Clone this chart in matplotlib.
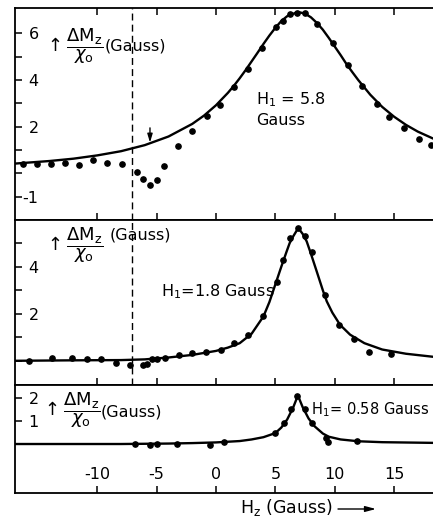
import matplotlib.pyplot as plt
from matplotlib.patches import FancyArrowPatch

plt.rcParams['font.family'] = ['DejaVu Sans']
plt.rcParams['mathtext.fontset'] = 'dejavusans'

# top panel, H1 = 5.8 Gauss
top_hz = [-16.28, -15.11, -13.9, -12.7, -11.5, -10.34, -9.16, -7.92, -6.68, -6.18, -5.56, -5.0,
          -4.38, -3.18, -2.0, -0.79, 0.3, 1.52, 2.72, 3.85, 5.05, 5.67, 6.23, 6.85, 7.52, 8.53,
          9.83, 11.09, 12.27, 13.54, 14.6, 15.84, 17.07, 18.1]
top_dm = [0.39, 0.39, 0.42, 0.46, 0.36, 0.56, 0.46, 0.39, 0.06, -0.26, -0.48, -0.29,
          0.31, 1.17, 1.81, 2.47, 2.95, 3.71, 4.46, 5.36, 6.26, 6.54, 6.82, 6.89, 6.86, 6.4,
          5.6, 4.64, 3.74, 2.96, 2.4, 1.93, 1.47, 1.2]
top_fit_hz = [-16.9, -14, -12, -10, -8, -6, -4, -2, -1, 0, 1, 1.5, 2, 2.5, 3, 3.5, 4, 4.5,
              5, 5.5, 6, 6.9, 7.5, 8, 8.5, 9, 9.5, 10, 10.5, 11, 11.5, 12, 13, 14, 15, 16,
              17, 18.3]
top_fit_dm = [0.42, 0.53, 0.63, 0.77, 0.95, 1.21, 1.58, 2.12, 2.48, 2.92, 3.45, 3.75, 4.08,
              4.43, 4.8, 5.17, 5.55, 5.91, 6.24, 6.53, 6.74, 6.92, 6.85, 6.69, 6.45, 6.16,
              5.81, 5.44, 5.07, 4.68, 4.33, 3.99, 3.37, 2.85, 2.43, 2.08, 1.79, 1.49]

# middle panel, H1 = 1.8 Gauss
mid_hz = [-15.72, -13.84, -12.16, -10.9, -9.72, -8.42, -7.25, -6.12, -5.84, -5.42, -4.94,
          -4.3, -3.12, -2.0, -0.84, 0.39, 1.54, 2.72, 3.99, 5.11, 5.67, 6.23, 6.93, 7.52, 8.06,
          9.21, 10.34, 11.6, 12.92, 14.72]
mid_dm = [0.0, 0.1, 0.1, 0.06, 0.06, -0.08, -0.18, -0.18, -0.14, 0.06, 0.06,
          0.14, 0.24, 0.34, 0.36, 0.46, 0.74, 1.09, 1.9, 3.36, 4.29, 5.21, 5.63, 5.31, 4.61,
          2.8, 1.51, 0.91, 0.37, 0.31]
mid_fit_hz = [-16.9, -12, -8, -6, -4, -2, 0, 1, 2, 3, 4, 4.5, 5, 5.5, 5.95, 6.2, 6.5, 6.93,
              7.3, 7.64, 8.0, 8.48, 9.0, 9.33, 9.8, 10.45, 11.3, 12.5, 14, 16, 18.3]
mid_fit_dm = [0.0, 0.02, 0.03, 0.06, 0.14, 0.25, 0.42, 0.56, 0.75, 1.15, 1.89, 2.5, 3.25,
              4.0, 4.65, 5.0, 5.29, 5.65, 5.4, 5.08, 4.55, 3.81, 3.0, 2.53, 2.05, 1.53,
              1.11, 0.75, 0.48, 0.3, 0.17]

# bottom panel, H1 = 0.58 Gauss
bot_hz = [-6.82, -5.56, -5.0, -3.31, -0.53, 0.67, 4.97, 5.73, 6.29, 6.85, 7.5, 8.09, 9.27,
          9.46, 11.85]
bot_dm = [0.0, -0.04, 0.0, 0.0, -0.04, 0.1, 0.47, 0.94, 1.52, 2.09, 1.55, 0.94, 0.25,
          0.1, 0.13]
bot_fit_hz = [-16.9, -8, -4, -2, 0, 2, 3, 4, 5, 5.5, 6, 6.5, 6.9, 7.3, 7.8, 8.3, 9, 9.5,
              10.5, 12, 14, 18.3]
bot_fit_dm = [0.0, 0.0, 0.02, 0.04, 0.07, 0.13, 0.2, 0.3, 0.48, 0.72, 1.08, 1.6, 2.13, 1.62,
              1.12, 0.78, 0.46, 0.32, 0.2, 0.12, 0.08, 0.05]

x_ticks = [-10, -5, 0, 5, 10, 15]
dash_x = -7.1

fig = plt.figure(figsize=(4.33, 5.18), dpi=100)
W, H = 433, 518


def panel(top_px, bot_px):
    return fig.add_axes([15 / W, 1 - bot_px / H, 1 - 15 / W, (bot_px - top_px) / H])


ax1 = panel(8, 220)
ax2 = panel(220, 385)
ax3 = panel(385, 493)

panels = [
    (ax1, top_hz, top_dm, top_fit_hz, top_fit_dm, (-2.0, 7.09), list(range(-1, 7)),
     {6: '6', 4: '4', 2: '2', -1: '-1'}),
    (ax2, mid_hz, mid_dm, mid_fit_hz, mid_fit_dm, (-1.03, 5.99), list(range(0, 6)),
     {4: '4', 2: '2'}),
    (ax3, bot_hz, bot_dm, bot_fit_hz, bot_fit_dm, (-2.15, 2.59), [0, 1, 2],
     {2: '2', 1: '1'}),
]

for ax, hz, dm, fhz, fdm, ylim, yt, ylab in panels:
    ax.plot(fhz, fdm, color='black', lw=1.7, solid_joinstyle='round')
    ax.plot(hz, dm, 'o', color='black', ms=3.8)
    ax.set_xlim(-16.93, 18.28)
    ax.set_ylim(*ylim)
    ax.set_yticks(yt)
    ax.set_yticklabels([ylab.get(v, '') for v in yt])
    ax.set_xticks(x_ticks)
    ax.tick_params(axis='y', direction='in', length=5, width=1.1, pad=-17, labelsize=11.5)
    ax.tick_params(axis='x', direction='in', length=5, width=1.1, labelsize=11.5)
    ax.spines['right'].set_visible(False)
    for s in ['left', 'top', 'bottom']:
        ax.spines[s].set_linewidth(1.3)

ax1.tick_params(axis='x', top=True, labelbottom=False)
ax2.tick_params(axis='x', labelbottom=False)
ax3.set_xticklabels([str(v) for v in x_ticks])
ax3.tick_params(axis='x', pad=-19)

for ax in (ax1, ax2):
    ax.axvline(dash_x, color='black', lw=1.0, ls=(0, (5, 3)))

ax1.annotate('', xy=(-5.56, 1.32), xytext=(-5.56, 1.95),
             arrowprops=dict(arrowstyle='-|>,head_width=0.15,head_length=0.5',
                             color='black', lw=1.0, shrinkA=0, shrinkB=0))

frac = r'$\uparrow\dfrac{\Delta\mathrm{M}_{\mathrm{z}}}{\chi_{\mathrm{o}}}$'
ax1.text(-14.5, 5.45, frac, fontsize=13, va='center')
ax1.text(-9.4, 5.45, '(Gauss)', fontsize=11.5, va='center')
ax2.text(-14.5, 4.9, frac, fontsize=13, va='center')
ax2.text(-9.0, 5.35, '(Gauss)', fontsize=11.5, va='center')
ax3.text(-14.7, 1.5, frac, fontsize=13, va='center')
ax3.text(-9.7, 1.4, '(Gauss)', fontsize=11.5, va='center')

ax1.text(3.4, 2.75, 'H$_1$ = 5.8\nGauss', fontsize=11.5, va='center', linespacing=1.3)
ax2.text(-4.6, 2.94, 'H$_1$=1.8 Gauss', fontsize=11.5, va='center')
ax3.text(8.0, 1.53, 'H$_1$= 0.58 Gauss', fontsize=10.5, va='center')

fig.text(240 / W, 1 - 508 / H, r'H$_\mathrm{z}$ (Gauss)', fontsize=12.5, va='center')
fig.add_artist(FancyArrowPatch(
    (338 / W, 1 - 509 / H), (376 / W, 1 - 509 / H), transform=fig.transFigure,
    arrowstyle='-|>,head_width=0.12,head_length=0.45', color='black', lw=1.0,
    mutation_scale=14, shrinkA=0, shrinkB=0))

fig.savefig('out.png', dpi=100)
